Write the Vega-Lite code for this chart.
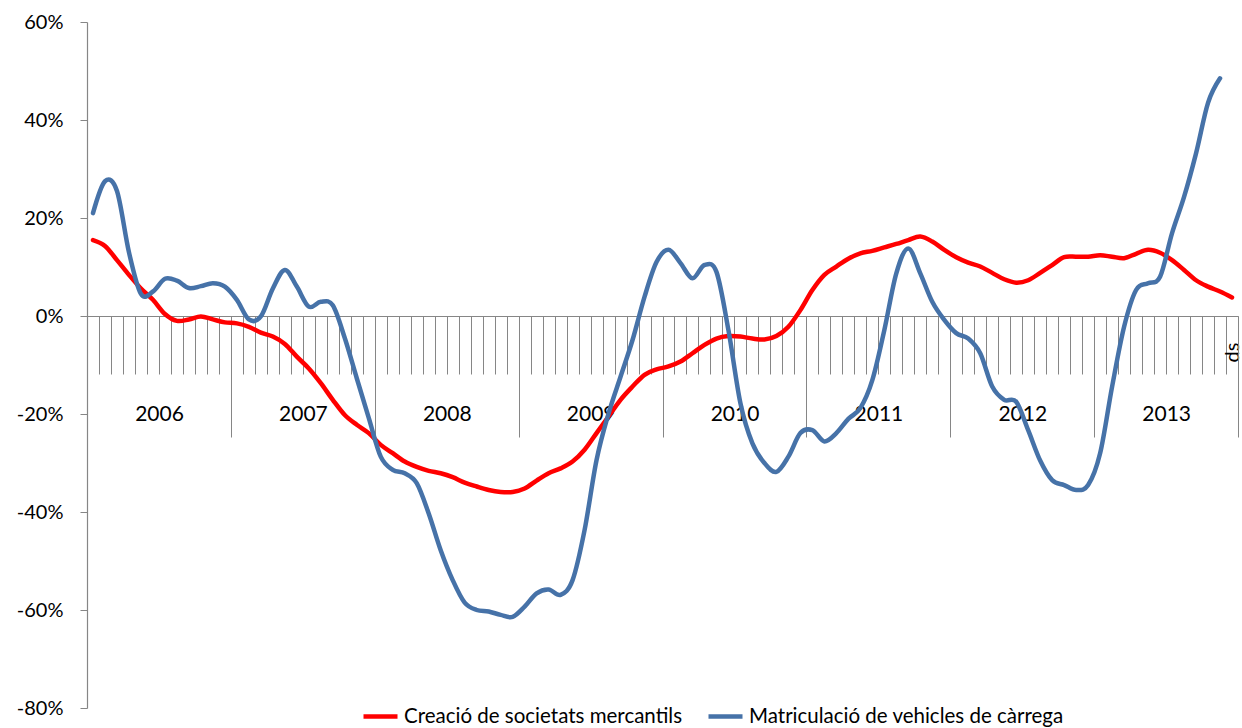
{
  "$schema": "https://vega.github.io/schema/vega-lite/v6.json",
  "width": 1151,
  "height": 686,
  "autosize": "none",
  "padding": {"left": 87, "top": 22, "right": 4, "bottom": 20},
  "background": "white",
  "config": {
    "view": {"stroke": null},
    "axis": {"labelFont": "Lato", "labelColor": "#000000", "domainColor": "#868686", "tickColor": "#868686", "grid": false, "title": null},
    "legend": {"labelFont": "Lato"}
  },
  "data": {"values": [
    {"mes":"2006-01","i":0,"soc":15.5,"veh":21.0},
    {"mes":"2006-02","i":1,"soc":14.3,"veh":27.5},
    {"mes":"2006-03","i":2,"soc":11.4,"veh":25.5},
    {"mes":"2006-04","i":3,"soc":8.4,"veh":13.0},
    {"mes":"2006-05","i":4,"soc":5.6,"veh":4.5},
    {"mes":"2006-06","i":5,"soc":3.3,"veh":5.0},
    {"mes":"2006-07","i":6,"soc":0.4,"veh":7.6},
    {"mes":"2006-08","i":7,"soc":-1.0,"veh":7.2},
    {"mes":"2006-09","i":8,"soc":-0.7,"veh":5.7},
    {"mes":"2006-10","i":9,"soc":-0.1,"veh":6.1},
    {"mes":"2006-11","i":10,"soc":-0.7,"veh":6.7},
    {"mes":"2006-12","i":11,"soc":-1.3,"veh":6.0},
    {"mes":"2007-01","i":12,"soc":-1.5,"veh":3.3},
    {"mes":"2007-02","i":13,"soc":-2.2,"veh":-0.7},
    {"mes":"2007-03","i":14,"soc":-3.4,"veh":-0.1},
    {"mes":"2007-04","i":15,"soc":-4.2,"veh":5.6},
    {"mes":"2007-05","i":16,"soc":-5.7,"veh":9.4},
    {"mes":"2007-06","i":17,"soc":-8.3,"veh":6.0},
    {"mes":"2007-07","i":18,"soc":-10.7,"veh":1.9},
    {"mes":"2007-08","i":19,"soc":-13.7,"veh":2.9},
    {"mes":"2007-09","i":20,"soc":-17.1,"veh":2.2},
    {"mes":"2007-10","i":21,"soc":-20.2,"veh":-4.5},
    {"mes":"2007-11","i":22,"soc":-22.2,"veh":-12.7},
    {"mes":"2007-12","i":23,"soc":-23.9,"veh":-20.8},
    {"mes":"2008-01","i":24,"soc":-26.3,"veh":-28.7},
    {"mes":"2008-02","i":25,"soc":-28.0,"veh":-31.4},
    {"mes":"2008-03","i":26,"soc":-29.7,"veh":-32.1},
    {"mes":"2008-04","i":27,"soc":-30.8,"veh":-34.1},
    {"mes":"2008-05","i":28,"soc":-31.6,"veh":-40.3},
    {"mes":"2008-06","i":29,"soc":-32.1,"veh":-47.8},
    {"mes":"2008-07","i":30,"soc":-32.9,"veh":-53.9},
    {"mes":"2008-08","i":31,"soc":-34.0,"veh":-58.5},
    {"mes":"2008-09","i":32,"soc":-34.8,"veh":-60.0},
    {"mes":"2008-10","i":33,"soc":-35.5,"veh":-60.3},
    {"mes":"2008-11","i":34,"soc":-35.9,"veh":-61.0},
    {"mes":"2008-12","i":35,"soc":-35.9,"veh":-61.4},
    {"mes":"2009-01","i":36,"soc":-35.2,"veh":-59.3},
    {"mes":"2009-02","i":37,"soc":-33.6,"veh":-56.6},
    {"mes":"2009-03","i":38,"soc":-32.1,"veh":-55.8},
    {"mes":"2009-04","i":39,"soc":-31.1,"veh":-56.9},
    {"mes":"2009-05","i":40,"soc":-29.7,"veh":-53.9},
    {"mes":"2009-06","i":41,"soc":-27.3,"veh":-43.7},
    {"mes":"2009-07","i":42,"soc":-23.9,"veh":-29.4},
    {"mes":"2009-08","i":43,"soc":-20.5,"veh":-19.9},
    {"mes":"2009-09","i":44,"soc":-17.1,"veh":-12.4},
    {"mes":"2009-10","i":45,"soc":-14.4,"veh":-4.9},
    {"mes":"2009-11","i":46,"soc":-12.0,"veh":3.9},
    {"mes":"2009-12","i":47,"soc":-10.9,"veh":11.0},
    {"mes":"2010-01","i":48,"soc":-10.3,"veh":13.5},
    {"mes":"2010-02","i":49,"soc":-9.3,"veh":10.8},
    {"mes":"2010-03","i":50,"soc":-7.6,"veh":7.7},
    {"mes":"2010-04","i":51,"soc":-5.9,"veh":10.4},
    {"mes":"2010-05","i":52,"soc":-4.6,"veh":9.0},
    {"mes":"2010-06","i":53,"soc":-4.1,"veh":-2.9},
    {"mes":"2010-07","i":54,"soc":-4.2,"veh":-17.8},
    {"mes":"2010-08","i":55,"soc":-4.6,"veh":-26.0},
    {"mes":"2010-09","i":56,"soc":-4.8,"veh":-30.0},
    {"mes":"2010-10","i":57,"soc":-4.1,"veh":-31.8},
    {"mes":"2010-11","i":58,"soc":-2.2,"veh":-28.7},
    {"mes":"2010-12","i":59,"soc":1.2,"veh":-23.9},
    {"mes":"2011-01","i":60,"soc":5.3,"veh":-23.3},
    {"mes":"2011-02","i":61,"soc":8.4,"veh":-25.6},
    {"mes":"2011-03","i":62,"soc":10.1,"veh":-23.9},
    {"mes":"2011-04","i":63,"soc":11.7,"veh":-21.0},
    {"mes":"2011-05","i":64,"soc":12.8,"veh":-18.8},
    {"mes":"2011-06","i":65,"soc":13.3,"veh":-13.1},
    {"mes":"2011-07","i":66,"soc":14.0,"veh":-2.9},
    {"mes":"2011-08","i":67,"soc":14.7,"veh":8.7},
    {"mes":"2011-09","i":68,"soc":15.5,"veh":13.8},
    {"mes":"2011-10","i":69,"soc":16.2,"veh":8.7},
    {"mes":"2011-11","i":70,"soc":15.2,"veh":2.9},
    {"mes":"2011-12","i":71,"soc":13.5,"veh":-0.8},
    {"mes":"2012-01","i":72,"soc":12.0,"veh":-3.5},
    {"mes":"2012-02","i":73,"soc":10.9,"veh":-4.6},
    {"mes":"2012-03","i":74,"soc":10.1,"veh":-7.6},
    {"mes":"2012-04","i":75,"soc":8.8,"veh":-14.4},
    {"mes":"2012-05","i":76,"soc":7.5,"veh":-17.1},
    {"mes":"2012-06","i":77,"soc":6.8,"veh":-17.5},
    {"mes":"2012-07","i":78,"soc":7.3,"veh":-23.3},
    {"mes":"2012-08","i":79,"soc":8.8,"veh":-29.5},
    {"mes":"2012-09","i":80,"soc":10.4,"veh":-33.5},
    {"mes":"2012-10","i":81,"soc":12.0,"veh":-34.5},
    {"mes":"2012-11","i":82,"soc":12.1,"veh":-35.5},
    {"mes":"2012-12","i":83,"soc":12.1,"veh":-34.5},
    {"mes":"2013-01","i":84,"soc":12.4,"veh":-28.0},
    {"mes":"2013-02","i":85,"soc":12.1,"veh":-14.4},
    {"mes":"2013-03","i":86,"soc":11.8,"veh":-2.2},
    {"mes":"2013-04","i":87,"soc":12.7,"veh":5.3},
    {"mes":"2013-05","i":88,"soc":13.5,"veh":6.7},
    {"mes":"2013-06","i":89,"soc":12.9,"veh":8.0},
    {"mes":"2013-07","i":90,"soc":11.4,"veh":16.9},
    {"mes":"2013-08","i":91,"soc":9.4,"veh":24.3},
    {"mes":"2013-09","i":92,"soc":7.3,"veh":33.2},
    {"mes":"2013-10","i":93,"soc":6.0,"veh":43.5},
    {"mes":"2013-11","i":94,"soc":5.0,"veh":48.5},
    {"mes":"2013-12","i":95,"soc":3.8,"veh":null}
  ]},
  "layer": [
    {
      "mark": {"type": "line", "interpolate": "cardinal", "strokeWidth": 4.5, "strokeCap": "round", "strokeJoin": "round"},
      "encoding": {
        "x": {"field": "i", "type": "quantitative",
          "scale": {"domain": [-0.5, 95.5], "nice": false, "zero": false},
          "axis": {"orient": "bottom", "offset": -392,
            "values": [-0.5,0.5,1.5,2.5,3.5,4.5,5.5,6.5,7.5,8.5,9.5,10.5,11.5,12.5,13.5,14.5,15.5,16.5,17.5,18.5,19.5,20.5,21.5,22.5,23.5,24.5,25.5,26.5,27.5,28.5,29.5,30.5,31.5,32.5,33.5,34.5,35.5,36.5,37.5,38.5,39.5,40.5,41.5,42.5,43.5,44.5,45.5,46.5,47.5,48.5,49.5,50.5,51.5,52.5,53.5,54.5,55.5,56.5,57.5,58.5,59.5,60.5,61.5,62.5,63.5,64.5,65.5,66.5,67.5,68.5,69.5,70.5,71.5,72.5,73.5,74.5,75.5,76.5,77.5,78.5,79.5,80.5,81.5,82.5,83.5,84.5,85.5,86.5,87.5,88.5,89.5,90.5,91.5,92.5,93.5,94.5,95.5],
            "tickSize": 58, "tickWidth": 1, "domainWidth": 1.2,
            "labelExpr": "datum.value === 94.5 ? 'ds' : ''",
            "labelAngle": 270, "labelOffset": 6, "labelPadding": -32,
            "labelFontSize": 20, "labelFlush": false, "labelOverlap": false, "labelBound": false, "title": null}
        },
        "y": {"field": "soc", "type": "quantitative",
          "scale": {"domain": [-80, 60], "nice": false, "zero": false},
          "axis": {"values": [-80,-60,-40,-20,0,20,40,60], "labelExpr": "datum.value + '%'", "tickSize": 7, "labelPadding": 17, "labelFontSize": 20, "labelFlush": false, "labelOverlap": false, "domainWidth": 1.2, "title": null}
        },
        "color": {"datum": "Creació de societats mercantils", "type": "nominal",
          "scale": {"domain": ["Creació de societats mercantils", "Matriculació de vehicles de càrrega"], "range": ["#FF0000", "#4672A8"]},
          "legend": {"orient": "none", "legendX": 274, "legendY": 675, "direction": "horizontal", "title": null,
            "symbolType": "stroke", "symbolStrokeWidth": 4.5, "symbolSize": 1156, "labelFontSize": 20.5, "labelLimit": 500,
            "labelOffset": 4, "columnPadding": 16, "labelColor": "#000000"}
        }
      }
    },
    {
      "mark": {"type": "line", "interpolate": "cardinal", "strokeWidth": 4.5, "strokeCap": "round", "strokeJoin": "round"},
      "encoding": {
        "x": {"field": "i", "type": "quantitative",
          "axis": {"orient": "bottom", "offset": -392,
            "values": [-0.5, 11.5, 23.5, 35.5, 47.5, 59.5, 71.5, 83.5, 95.5],
            "tickSize": 121, "tickWidth": 1, "domain": false,
            "labelExpr": "datum.value < 95 ? '' + (2006 + round((datum.value + 0.5) / 12)) : ''",
            "labelOffset": 72, "labelPadding": -34, "labelFontSize": 21, "labelAngle": 0,
            "labelFlush": false, "labelOverlap": false, "labelBound": false, "title": null}
        },
        "y": {"field": "veh", "type": "quantitative",
          "axis": {"values": [-80,-60,-40,-20,0,20,40,60], "labelExpr": "datum.value + '%'", "tickSize": 7, "labelPadding": 17, "labelFontSize": 20, "labelFlush": false, "labelOverlap": false, "domainWidth": 1.2, "title": null}
        },
        "color": {"datum": "Matriculació de vehicles de càrrega", "type": "nominal"}
      }
    }
  ],
  "resolve": {"axis": {"x": "independent"}}
}
